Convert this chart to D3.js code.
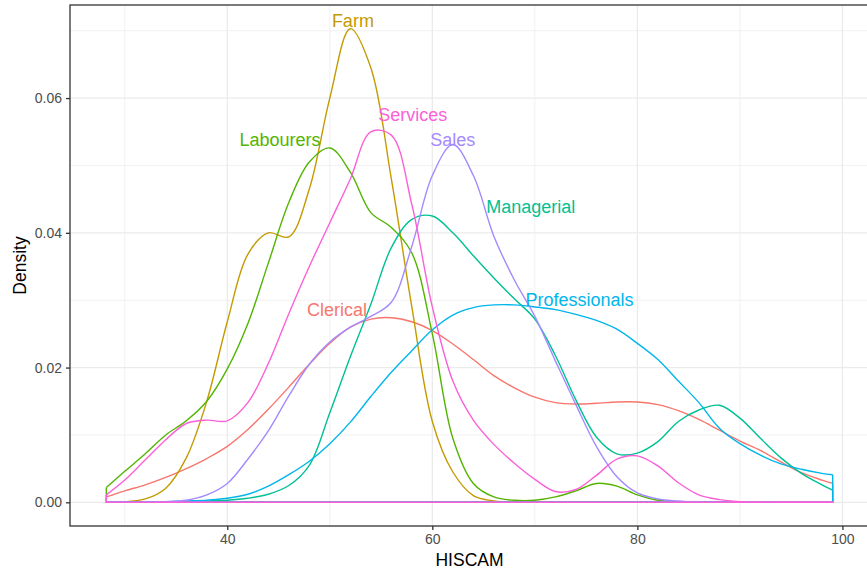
<!DOCTYPE html>
<html>
<head>
<meta charset="utf-8">
<script src="https://cdn.jsdelivr.net/npm/d3@7"></script>
<style>
  html, body { margin: 0; padding: 0; background: #ffffff; }
  svg { display: block; font-family: "Liberation Sans", Arial, Helvetica, sans-serif; }
</style>
</head>
<body>
<svg id="chart" width="867" height="573"></svg>
<script>
// ---- data ----
const categories = ["Clerical", "Farm", "Labourers", "Managerial", "Professionals", "Sales", "Services"];
const colors = ["#F8766D", "#C49A00", "#53B400", "#00C094", "#00B6EB", "#A58AFF", "#FB61D7"];

const hiscam = [28.2, 30, 32, 34, 36, 38, 40, 42, 44, 46, 48, 50, 52, 54, 56, 58, 60, 62, 64, 66,
                68, 70, 72, 74, 76, 78, 80, 82, 84, 86, 88, 90, 92, 94, 96, 98, 99.05];

const clerical = [0.0008, 0.0017, 0.0026, 0.0037, 0.0050, 0.0065, 0.0083, 0.0108, 0.0138, 0.0171,
                  0.0205, 0.0236, 0.0260, 0.0272, 0.0274, 0.0268, 0.0255, 0.0235, 0.0212, 0.0188,
                  0.0170, 0.0156, 0.0148, 0.0146, 0.0147, 0.0149, 0.0149, 0.0145, 0.0136, 0.0123,
                  0.0107, 0.0091, 0.0077, 0.0060, 0.0044, 0.0033, 0.0028];
const farm = [0, 0.0001, 0.0005, 0.0021, 0.0066, 0.0150, 0.0268, 0.0368, 0.0400, 0.0394,
              0.0465, 0.0600, 0.0703, 0.0645, 0.0480, 0.0290, 0.0120, 0.0045, 0.0010, 0.0002,
              0, 0, 0, 0, 0, 0, 0, 0, 0, 0,
              0, 0, 0, 0, 0, 0, 0];
const labourers = [0.0022, 0.0046, 0.0072, 0.0100, 0.0121, 0.0150, 0.0198, 0.0265, 0.0355, 0.0445,
                   0.0505, 0.0526, 0.0490, 0.0430, 0.0408, 0.0370, 0.0250, 0.0095, 0.0028, 0.0008,
                   0.0003, 0.0003, 0.0008, 0.0017, 0.0028, 0.0024, 0.0011, 0.0003, 0.0001, 0,
                   0, 0, 0, 0, 0, 0, 0];
const managerial = [0, 0, 0, 0, 0.0001, 0.0002, 0.0003, 0.0006, 0.0012, 0.0025,
                    0.0055, 0.0133, 0.0216, 0.0294, 0.0378, 0.0420, 0.0425, 0.0400, 0.0366, 0.0333,
                    0.0302, 0.0272, 0.0218, 0.0152, 0.0097, 0.0072, 0.0073, 0.0090, 0.0120, 0.0137,
                    0.0144, 0.0125, 0.0095, 0.0066, 0.0043, 0.0026, 0.0018];
const professionals = [0, 0, 0, 0.0001, 0.0002, 0.0003, 0.0006, 0.0012, 0.0024, 0.0041,
                       0.0061, 0.0087, 0.0119, 0.0157, 0.0193, 0.0225, 0.0256, 0.0278, 0.0289, 0.0293,
                       0.0293, 0.0290, 0.0286, 0.0279, 0.0270, 0.0257, 0.0236, 0.0212, 0.0180, 0.0148,
                       0.0110, 0.0087, 0.0070, 0.0057, 0.0049, 0.0043, 0.0041];
const sales = [0, 0, 0, 0.0001, 0.0003, 0.0011, 0.0028, 0.0064, 0.0106, 0.0158,
               0.0205, 0.0238, 0.0260, 0.0276, 0.0297, 0.0380, 0.0485, 0.0531, 0.0485, 0.0395,
               0.0330, 0.0276, 0.0210, 0.0145, 0.0083, 0.0038, 0.0014, 0.0005, 0.0002, 0,
               0, 0, 0, 0, 0, 0, 0];
const services = [0.0011, 0.0033, 0.0063, 0.0093, 0.0117, 0.0122, 0.0121, 0.0148, 0.0206, 0.0280,
                  0.0350, 0.0415, 0.0480, 0.0550, 0.0545, 0.0442, 0.0290, 0.0180, 0.0122, 0.0086,
                  0.0058, 0.0034, 0.0016, 0.0019, 0.0040, 0.0064, 0.0069, 0.0054, 0.0029, 0.0011,
                  0.0004, 0.0001, 0, 0, 0, 0, 0];

const seriesValues = [clerical, farm, labourers, managerial, professionals, sales, services];

// label anchor positions (data units)
const labelX = [50.7, 52.25, 45.15, 69.6, 74.35, 62.0, 58.1];
const labelY = [0.0286, 0.0715, 0.0538, 0.0439, 0.0300, 0.0538, 0.0575];

const xTicks = [40, 60, 80, 100];
const xMinorTicks = [30, 50, 70, 90];
const yTicks = [0, 0.02, 0.04, 0.06];
const yMinorTicks = [0.01, 0.03, 0.05, 0.07];
const yTickLabels = ["0.00", "0.02", "0.04", "0.06"];

// ---- layout ----
const svg = d3.select("#chart");
const panel = { left: 70, right: 869, top: 5, bottom: 526 };

const xLo = d3.min(hiscam), xHi = d3.max(hiscam);
const xPad = (xHi - xLo) * 0.05;
const x = d3.scaleLinear().domain([xLo - xPad, xHi + xPad]).range([panel.left, panel.right]);

const yHi = d3.max(seriesValues, s => d3.max(s));
const yPad = yHi * 0.05;
const y = d3.scaleLinear().domain([-yPad, yHi + yPad]).range([panel.bottom, panel.top]);

// panel background
svg.append("rect")
  .attr("x", panel.left).attr("y", panel.top)
  .attr("width", panel.right - panel.left).attr("height", panel.bottom - panel.top)
  .attr("fill", "#ffffff");

const grid = svg.append("g");
// minor grid
grid.selectAll("line.xminor").data(xMinorTicks).join("line")
  .attr("x1", d => x(d)).attr("x2", d => x(d))
  .attr("y1", panel.top).attr("y2", panel.bottom)
  .attr("stroke", "#ebebeb").attr("stroke-width", 0.7);
grid.selectAll("line.yminor").data(yMinorTicks).join("line")
  .attr("y1", d => y(d)).attr("y2", d => y(d))
  .attr("x1", panel.left).attr("x2", panel.right)
  .attr("stroke", "#ebebeb").attr("stroke-width", 0.7);
// major grid
grid.selectAll("line.xmajor").data(xTicks).join("line")
  .attr("x1", d => x(d)).attr("x2", d => x(d))
  .attr("y1", panel.top).attr("y2", panel.bottom)
  .attr("stroke", "#ebebeb").attr("stroke-width", 1.3);
grid.selectAll("line.ymajor").data(yTicks).join("line")
  .attr("y1", d => y(d)).attr("y2", d => y(d))
  .attr("x1", panel.left).attr("x2", panel.right)
  .attr("stroke", "#ebebeb").attr("stroke-width", 1.3);

// density curves
const line = d3.line()
  .x(d => x(d[0]))
  .y(d => y(d[1]))
  .curve(d3.curveCatmullRom.alpha(0.5));

const curves = svg.append("g");
seriesValues.forEach((vals, i) => {
  const pts = hiscam.map((h, j) => [h, vals[j]]);
  const g = curves.append("g");
  g.append("path")
    .attr("d", line(pts))
    .attr("fill", "none")
    .attr("stroke", colors[i])
    .attr("stroke-width", 1.4);
  // baseline and end edges of the density outline
  const edge = d3.path();
  edge.moveTo(x(xHi), y(vals[vals.length - 1]));
  edge.lineTo(x(xHi), y(0));
  edge.lineTo(x(xLo), y(0));
  edge.lineTo(x(xLo), y(vals[0]));
  g.append("path")
    .attr("d", edge.toString())
    .attr("fill", "none")
    .attr("stroke", colors[i])
    .attr("stroke-width", 1.4);
});

// labels
svg.append("g").selectAll("text").data(categories).join("text")
  .attr("x", (d, i) => x(labelX[i]))
  .attr("y", (d, i) => y(labelY[i]))
  .attr("dy", "0.35em")
  .attr("text-anchor", "middle")
  .attr("font-size", "18px")
  .attr("fill", (d, i) => colors[i])
  .text(d => d);

// panel border
svg.append("rect")
  .attr("x", panel.left).attr("y", panel.top)
  .attr("width", panel.right - panel.left).attr("height", panel.bottom - panel.top)
  .attr("fill", "none").attr("stroke", "#333333").attr("stroke-width", 1.3);

// axes
const xAxis = d3.axisBottom(x).tickValues(xTicks).tickSize(4).tickPadding(4).tickFormat(d3.format("d"));
const gx = svg.append("g").attr("transform", `translate(0,${panel.bottom})`).call(xAxis);
gx.select(".domain").remove();
gx.selectAll(".tick line").attr("stroke", "#333333").attr("stroke-width", 1.3);
gx.selectAll(".tick text").attr("fill", "#4d4d4d").attr("font-size", "14px")
  .attr("font-family", "Liberation Sans, Arial, Helvetica, sans-serif");

const yAxis = d3.axisLeft(y).tickValues(yTicks).tickSize(4).tickPadding(4)
  .tickFormat((d, i) => yTickLabels[i]);
const gy = svg.append("g").attr("transform", `translate(${panel.left},0)`).call(yAxis);
gy.select(".domain").remove();
gy.selectAll(".tick line").attr("stroke", "#333333").attr("stroke-width", 1.3);
gy.selectAll(".tick text").attr("fill", "#4d4d4d").attr("font-size", "14px")
  .attr("font-family", "Liberation Sans, Arial, Helvetica, sans-serif");

// axis titles
svg.append("text")
  .attr("x", (panel.left + panel.right) / 2)
  .attr("y", 566)
  .attr("text-anchor", "middle")
  .attr("font-size", "17.5px")
  .attr("fill", "#000000")
  .text("HISCAM");

svg.append("text")
  .attr("transform", `translate(26,${(panel.top + panel.bottom) / 2}) rotate(-90)`)
  .attr("text-anchor", "middle")
  .attr("font-size", "17.5px")
  .attr("fill", "#000000")
  .text("Density");
</script>
</body>
</html>
